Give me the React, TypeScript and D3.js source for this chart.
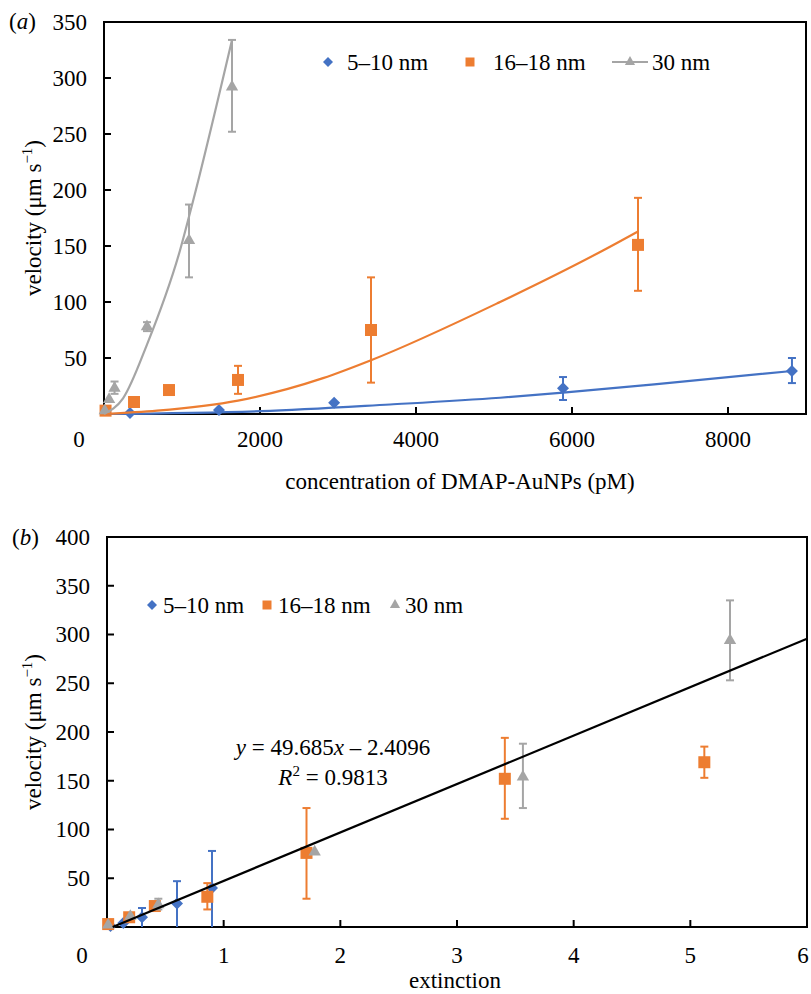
import React, { useRef, useEffect } from 'react';
import * as d3 from 'd3';

const seriesNames = ['5–10 nm', '16–18 nm', '30 nm'];
const seriesColors = ['#4472C4', '#ED7D31', '#A5A5A5'];

// (a) velocity vs concentration of DMAP-AuNPs (pM)
const aConc510 = [333, 1474, 2950, 5885, 8820];
const aVel510 = [1, 3.6, 10, 23, 38.4];
const aHi510 = [null, null, null, 33, 50];
const aLo510 = [null, null, null, 12.5, 27.6];

const aConc1618 = [20, 385, 833, 1718, 3423, 6846];
const aVel1618 = [3, 10.7, 21.4, 30.4, 75, 151];
const aHi1618 = [null, null, null, 43, 122, 193];
const aLo1618 = [null, null, null, 18, 28, 110];

const aConc30 = [10, 65, 135, 551, 1090, 1641];
const aVel30 = [3, 13, 23, 78, 155, 292];
const aHi30 = [null, null, 29, 82, 187, 334];
const aLo30 = [null, null, 18, 74, 122, 252];

// trend curves
const aFitConc510 = [0, 2013, 3667, 5077, 5885, 7218, 8820];
const aFitVel510 = [0, 2.5, 8.5, 14.5, 19, 27.5, 38.4];
const aFitConc1618 = [0, 680, 1718, 2808, 3423, 5077, 6397, 6846];
const aFitVel1618 = [0, 3, 12, 32, 48, 100, 146, 163];
const aFitConc30 = [0, 244, 551, 974, 1141, 1641];
const aFitVel30 = [0, 14, 62, 146, 190, 334];

const aXTicks = [2000, 4000, 6000, 8000];
const aYTicks = [50, 100, 150, 200, 250, 300, 350];

// (b) velocity vs extinction
const bExt510 = [0.03, 0.14, 0.3, 0.6, 0.9];
const bVel510 = [1, 4, 10, 24, 40];
const bHi510 = [null, null, 19.5, 47, 78];
const bLo510 = [null, null, 0, 0, 0];

const bExt1618 = [0.01, 0.19, 0.41, 0.86, 1.71, 3.41, 5.12];
const bVel1618 = [3, 10, 21.5, 31, 76, 152, 169];
const bHi1618 = [null, null, null, 45, 122, 194, 185];
const bLo1618 = [null, null, null, 18, 29, 111, 153];

const bExt30 = [0.01, 0.2, 0.44, 1.78, 3.565, 5.34];
const bVel30 = [2, 11, 23, 77, 154, 294];
const bHi30 = [null, null, 29, null, 188, 335];
const bLo30 = [null, null, 18, null, 122, 253];

const fitSlope = 49.685;
const fitIntercept = -2.4096;
const fitR2 = 0.9813;

const bXTicks = [1, 2, 3, 4, 5, 6];
const bYTicks = [50, 100, 150, 200, 250, 300, 350, 400];

const W = 811, H = 994;
const FONT = '"Liberation Serif", "Times New Roman", serif';
const FS = 23;

const symbols = [
  d3.symbol().type(d3.symbolSquare).size(72),
  d3.symbol().type(d3.symbolSquare).size(144),
  d3.symbol().type(d3.symbolTriangle).size(66),
];
const legendSymbols = [
  d3.symbol().type(d3.symbolSquare).size(50),
  d3.symbol().type(d3.symbolSquare).size(81),
  d3.symbol().type(d3.symbolTriangle).size(45),
];

function drawPanel(svg, p) {
  const g = svg.append('g');
  const x = d3.scaleLinear().domain(p.xDomain).range([p.left, p.right]);
  const y = d3.scaleLinear().domain(p.yDomain).range([p.bottom, p.top]);

  // ticks (inside)
  g.selectAll(null).data(p.yTicks).enter().append('line')
    .attr('x1', p.left).attr('x2', p.left + 7)
    .attr('y1', d => y(d)).attr('y2', d => y(d))
    .attr('stroke', '#000').attr('stroke-width', 2);
  g.selectAll(null).data(p.xTicks).enter().append('line')
    .attr('x1', d => x(d)).attr('x2', d => x(d))
    .attr('y1', p.bottom).attr('y2', p.bottom - 7)
    .attr('stroke', '#000').attr('stroke-width', 2);

  g.append('rect')
    .attr('x', p.left).attr('y', p.top)
    .attr('width', p.right - p.left).attr('height', p.bottom - p.top)
    .attr('fill', 'none').attr('stroke', '#000').attr('stroke-width', 2);

  // tick labels
  g.selectAll(null).data(p.yTicks).enter().append('text')
    .attr('x', p.left - 17).attr('y', d => y(d)).attr('dy', '0.34em')
    .attr('text-anchor', 'end').text(d => d);
  g.selectAll(null).data([0].concat(p.xTicks)).enter().append('text')
    .attr('x', d => (d === 0 ? x(d) - 25 : Math.min(x(d), W - 8)))
    .attr('y', p.bottom + p.xLabelOffset)
    .attr('text-anchor', 'middle').text(d => d);

  // error bars + markers
  p.series.forEach((s, i) => {
    const pts = s.xs.map((xv, j) => ({ x: xv, v: s.vs[j], hi: s.hi[j], lo: s.lo[j] }));
    const eb = pts.filter(d => d.hi != null);
    const eg = g.append('g').attr('stroke', seriesColors[i]).attr('stroke-width', 2);
    eg.selectAll(null).data(eb).enter().append('line')
      .attr('x1', d => x(d.x)).attr('x2', d => x(d.x))
      .attr('y1', d => y(d.hi)).attr('y2', d => y(d.lo));
    eg.selectAll(null).data(eb).enter().append('line')
      .attr('x1', d => x(d.x) - 4).attr('x2', d => x(d.x) + 4)
      .attr('y1', d => y(d.hi)).attr('y2', d => y(d.hi));
    eg.selectAll(null).data(eb.filter(d => d.lo > p.yDomain[0])).enter().append('line')
      .attr('x1', d => x(d.x) - 4).attr('x2', d => x(d.x) + 4)
      .attr('y1', d => y(d.lo)).attr('y2', d => y(d.lo));

    g.selectAll(null).data(pts).enter().append('path')
      .attr('d', symbols[i]())
      .attr('transform', d => `translate(${x(d.x)},${y(d.v)})${i === 0 ? ' rotate(45)' : ''}`)
      .attr('fill', seriesColors[i]);
  });

  // trend lines
  const line = d3.line().x(d => x(d[0])).y(d => y(d[1])).curve(d3.curveMonotoneX);
  p.fits.forEach(f => {
    g.append('path')
      .attr('d', line(f.xs.map((xv, j) => [xv, f.vs[j]])))
      .attr('fill', 'none').attr('stroke', f.color).attr('stroke-width', 2.2);
  });

  // legend
  p.legend.forEach((l, i) => {
    if (l.line) {
      g.append('line').attr('x1', l.mx - 18).attr('x2', l.mx + 18)
        .attr('y1', p.legendY).attr('y2', p.legendY)
        .attr('stroke', seriesColors[i]).attr('stroke-width', 2.2);
    }
    g.append('path').attr('d', legendSymbols[i]())
      .attr('transform', `translate(${l.mx},${p.legendY})${i === 0 ? ' rotate(45)' : ''}`)
      .attr('fill', seriesColors[i]);
    g.append('text').attr('x', l.tx).attr('y', p.legendY).attr('dy', '0.34em').text(seriesNames[i]);
  });

  // axis titles
  const yt = g.append('text')
    .attr('transform', `translate(41,${(p.top + p.bottom) / 2}) rotate(-90)`)
    .attr('text-anchor', 'middle');
  yt.append('tspan').text('velocity (μm s');
  yt.append('tspan').attr('font-size', 15).attr('dy', -9).text('−1');
  yt.append('tspan').attr('dy', 9).text(')');
  g.append('text').attr('x', p.titleX).attr('y', p.titleY)
    .attr('text-anchor', 'middle').text(p.xTitle);

  const pl = g.append('text').attr('x', p.tagX).attr('y', p.tagY);
  pl.append('tspan').text('(');
  pl.append('tspan').attr('font-style', 'italic').text(p.tag);
  pl.append('tspan').text(')');

  return { x, y, g };
}

export default function App() {
  const svgRef = useRef(null);

  useEffect(() => {
    const svg = d3.select(svgRef.current);
    svg.selectAll('*').remove();
    svg.attr('font-family', FONT).attr('font-size', FS).attr('fill', '#000');

    drawPanel(svg, {
      left: 104, right: 806, top: 22, bottom: 414,
      xDomain: [0, 9000], yDomain: [0, 350],
      xTicks: aXTicks, yTicks: aYTicks, xLabelOffset: 33,
      series: [
        { xs: aConc510, vs: aVel510, hi: aHi510, lo: aLo510 },
        { xs: aConc1618, vs: aVel1618, hi: aHi1618, lo: aLo1618 },
        { xs: aConc30, vs: aVel30, hi: aHi30, lo: aLo30 },
      ],
      fits: [
        { xs: aFitConc510, vs: aFitVel510, color: seriesColors[0] },
        { xs: aFitConc1618, vs: aFitVel1618, color: seriesColors[1] },
        { xs: aFitConc30, vs: aFitVel30, color: seriesColors[2] },
      ],
      legendY: 62,
      legend: [{ mx: 328, tx: 347 }, { mx: 470, tx: 493 }, { mx: 630, tx: 652, line: true }],
      xTitle: 'concentration of DMAP-AuNPs (pM)', titleX: 460, titleY: 489,
      tag: 'a', tagX: 9, tagY: 29,
    });

    const b = drawPanel(svg, {
      left: 107, right: 807, top: 537, bottom: 927,
      xDomain: [0, 6], yDomain: [0, 400],
      xTicks: bXTicks, yTicks: bYTicks, xLabelOffset: 36,
      series: [
        { xs: bExt510, vs: bVel510, hi: bHi510, lo: bLo510 },
        { xs: bExt1618, vs: bVel1618, hi: bHi1618, lo: bLo1618 },
        { xs: bExt30, vs: bVel30, hi: bHi30, lo: bLo30 },
      ],
      fits: [],
      legendY: 605,
      legend: [{ mx: 152, tx: 163 }, { mx: 267, tx: 278 }, { mx: 395, tx: 405 }],
      xTitle: 'extinction', titleX: 455, titleY: 988,
      tag: 'b', tagX: 12, tagY: 545,
    });

    // linear fit in (b)
    const e0 = -fitIntercept / fitSlope;
    const fitPts = [e0, 6].map(e => [e, fitSlope * e + fitIntercept]);
    b.g.append('path')
      .attr('d', d3.line().x(d => b.x(d[0])).y(d => b.y(d[1]))(fitPts))
      .attr('fill', 'none').attr('stroke', '#000').attr('stroke-width', 2.2);

    const eq = b.g.append('text').attr('x', 333).attr('y', 755).attr('text-anchor', 'middle');
    eq.append('tspan').attr('font-style', 'italic').text('y');
    eq.append('tspan').text(` = ${fitSlope}`);
    eq.append('tspan').attr('font-style', 'italic').text('x');
    eq.append('tspan').text(` – ${Math.abs(fitIntercept)}`);
    const r2 = b.g.append('text').attr('x', 333).attr('y', 785).attr('text-anchor', 'middle');
    r2.append('tspan').attr('font-style', 'italic').text('R');
    r2.append('tspan').attr('font-size', 15).attr('dy', -9).text('2');
    r2.append('tspan').attr('dy', 9).text(` = ${fitR2}`);
  }, []);

  return (
    <svg ref={svgRef} width={W} height={H}
      style={{ position: 'absolute', left: 0, top: 0, background: '#fff' }} />
  );
}
